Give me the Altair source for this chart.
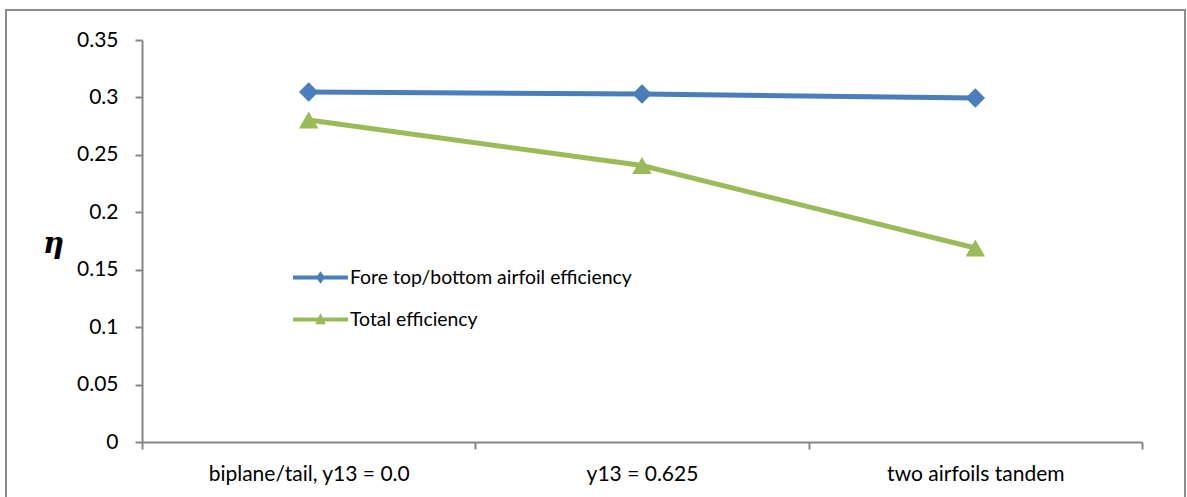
import altair as alt
import pandas as pd

categories = ["biplane/tail, y13 = 0.0", "y13 = 0.625", "two airfoils tandem"]
series_names = ["Fore top/bottom airfoil efficiency", "Total efficiency"]
fore_values = [0.3047, 0.3030, 0.2995]
total_values = [0.2803, 0.2407, 0.1689]
y_ticks = [0, 0.05, 0.1, 0.15, 0.2, 0.25, 0.3, 0.35]

colors = ["#4A7EBB", "#9BBB59"]
marker_shapes = ["diamond", "triangle-up"]
# legend symbols: a line with the marker on it
legend_paths = [
    "M-1,-0.075 L1,-0.075 L1,0.075 L-1,0.075 Z M0,-0.23 L0.16,0 L0,0.23 L-0.16,0 Z",
    "M-1,-0.075 L1,-0.075 L1,0.075 L-1,0.075 Z M0,-0.24 L0.19,0.17 L-0.19,0.17 Z",
]

rows = []
for s, vals in zip(series_names, [fore_values, total_values]):
    for c, v in zip(categories, vals):
        rows.append({"category": c, "series": s, "value": v})
df = pd.DataFrame(rows)

FONT = "Lato"
AXIS_GRAY = "#868686"

x_enc = alt.X(
    "category:N",
    sort=categories,
    scale=alt.Scale(domain=categories, paddingInner=0, paddingOuter=0),
    axis=alt.Axis(
        title=None,
        labelAngle=0,
        tickBand="extent",
        domainColor=AXIS_GRAY,
        domainWidth=2,
        tickColor=AXIS_GRAY,
        tickWidth=2,
        tickSize=7,
        labelBaseline="middle",
        labelPadding=25,
        labelFontSize=21,
        labelFont=FONT,
        labelColor="#000000",
        labelLimit=500,
        grid=False,
    ),
)
y_enc = alt.Y(
    "value:Q",
    scale=alt.Scale(domain=[0, 0.35], nice=False, zero=True),
    axis=alt.Axis(
        values=y_ticks,
        format="~g",
        title="η",
        titleAngle=0,
        titleFont="DejaVu Serif",
        titleFontStyle="italic",
        titleFontWeight="bold",
        titleFontSize=29,
        titleX=-89,
        titleY=203,
        titleAlign="center",
        titleBaseline="middle",
        titleColor="#000000",
        domainColor=AXIS_GRAY,
        domainWidth=2,
        tickColor=AXIS_GRAY,
        tickWidth=2,
        tickSize=7,
        labelPadding=17,
        labelFontSize=21,
        labelFont=FONT,
        labelColor="#000000",
        grid=False,
    ),
)
color_scale = alt.Scale(domain=series_names, range=colors)

base = alt.Chart(df)

series_layers = []
for s, col, shp in zip(series_names, colors, marker_shapes):
    sub = base.transform_filter(alt.datum.series == s)
    series_layers.append(
        sub.mark_line(strokeWidth=5, color=col).encode(x=x_enc, y=y_enc)
    )
for s, col, shp in zip(series_names, colors, marker_shapes):
    sub = base.transform_filter(alt.datum.series == s)
    series_layers.append(
        sub.mark_point(filled=True, opacity=1, size=380, shape=shp, color=col).encode(
            x=x_enc, y=y_enc
        )
    )

legend_props = dict(
    title=None,
    orient="none",
    legendX=151,
    legendY=210,
    symbolOpacity=1,
    symbolStrokeWidth=0,
    symbolSize=3025,
    labelFont=FONT,
    labelFontSize=19.4,
    labelColor="#000000",
    labelOffset=2,
    rowPadding=5,
    labelLimit=500,
)

legend_layer = base.mark_point(filled=True, opacity=0, size=3025).encode(
    x=x_enc,
    y=y_enc,
    color=alt.Color("series:N", scale=color_scale, legend=alt.Legend(**legend_props)),
    shape=alt.Shape(
        "series:N",
        scale=alt.Scale(domain=series_names, range=legend_paths),
        legend=alt.Legend(**legend_props),
    ),
)

frame = alt.Chart(pd.DataFrame({"f": [0]})).mark_rect(
    fill=None, stroke="#8C8C8C", strokeWidth=2
).encode(
    x=alt.value(-136), x2=alt.value(1043), y=alt.value(-30), y2=alt.value(480)
)

chart = (
    alt.layer(frame, *series_layers, legend_layer)
    .properties(
        width=1000,
        height=402,
        autosize=alt.AutoSizeParams(type="none"),
        padding={"left": 142, "top": 40, "right": 45, "bottom": 55},
        background="#FFFFFF",
    )
    .configure_view(stroke=None)
)

chart.save("out.html", embed_options={"renderer": "svg", "actions": False})
